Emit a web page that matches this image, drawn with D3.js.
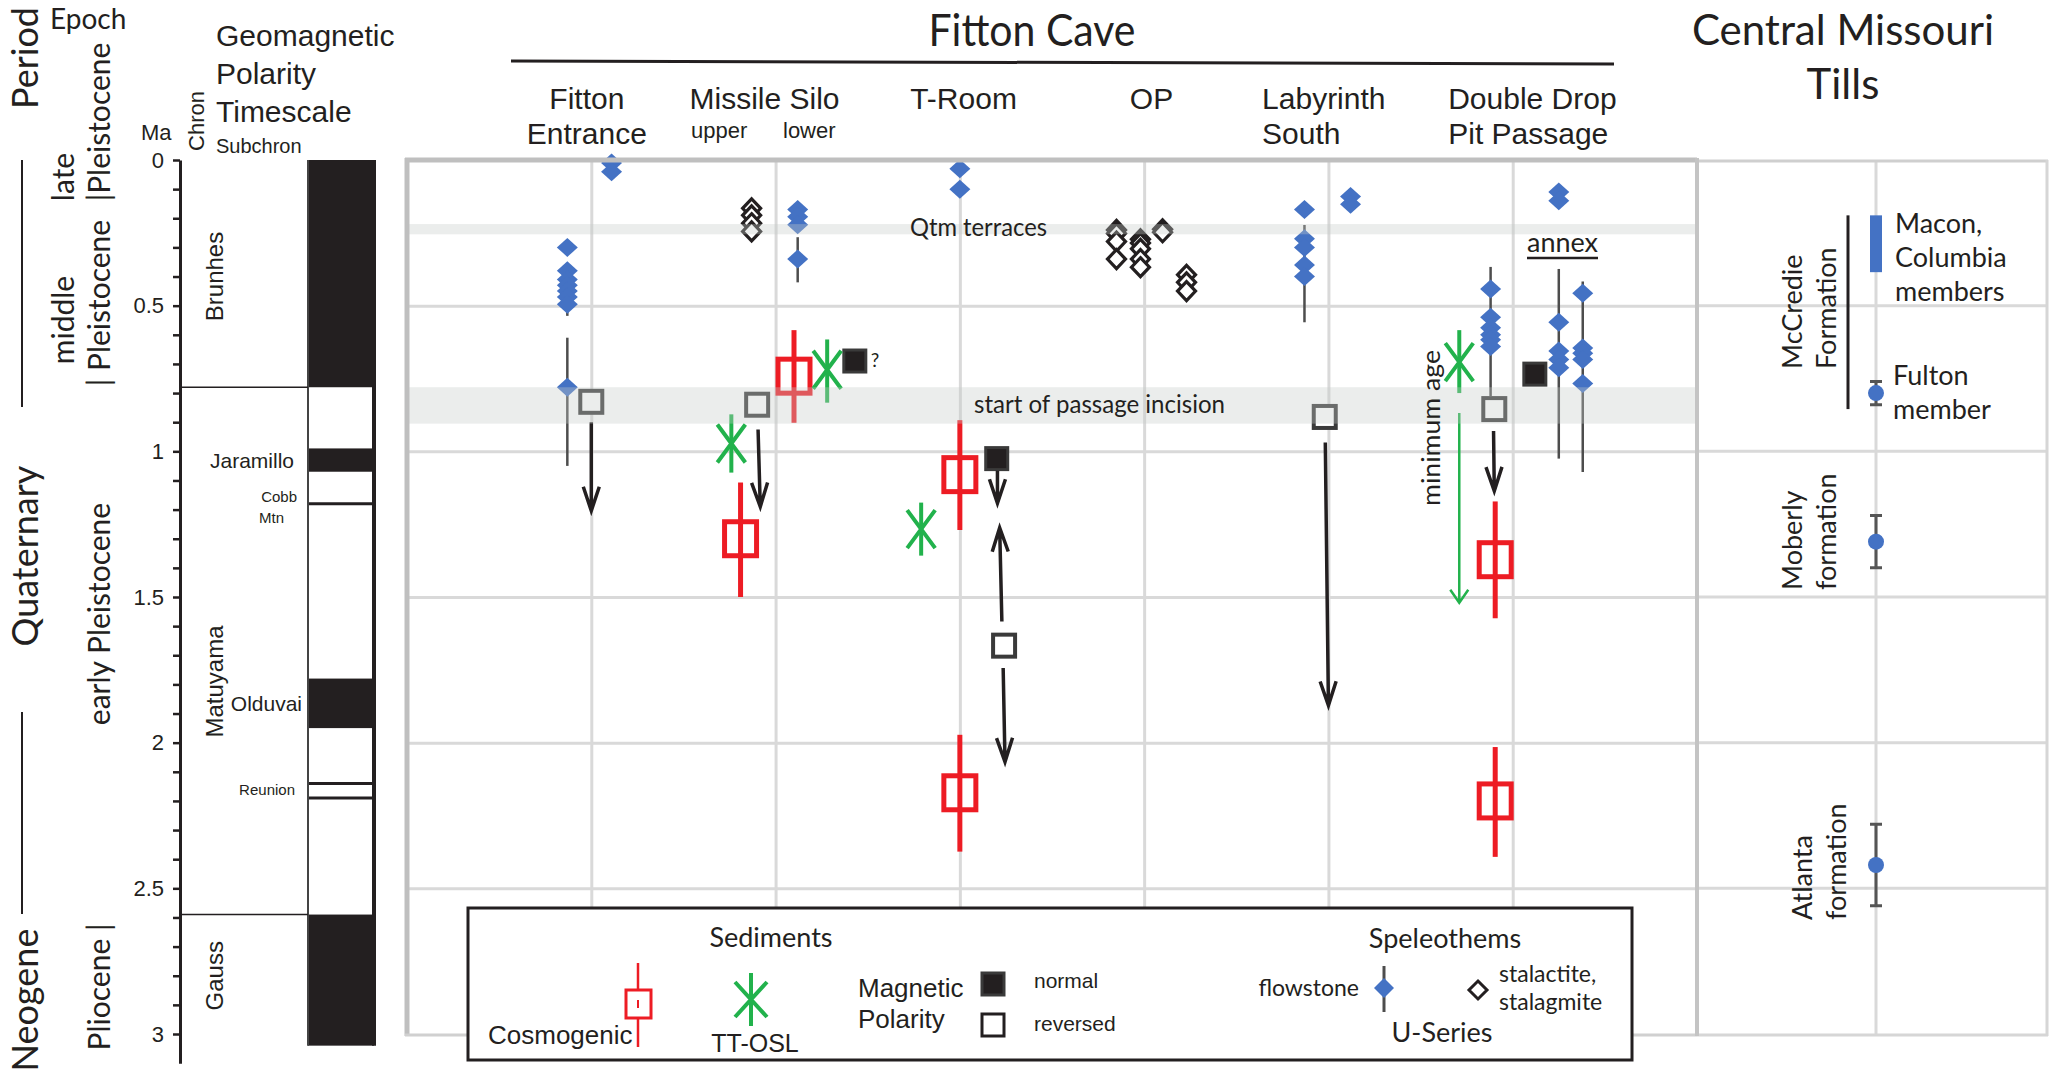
<!DOCTYPE html>
<html>
<head>
<meta charset="utf-8">
<script src="https://cdn.jsdelivr.net/npm/d3@7"></script>
<style>
  body { margin: 0; background: #fff; }
  #vis { width: 2051px; height: 1073px; }
  text { fill: #231f20; }
  .my { font-family: Lato, "Open Sans", sans-serif; }
  .ar { font-family: "Liberation Sans", Arial, sans-serif; }
</style>
</head>
<body>
<div id="vis"></div>
<script>
var width = 2051, height = 1073;

// ---------- data ----------
var maGrid = [0.5, 1, 1.5, 2, 2.5];
var siteGrid = [1, 2, 3, 4, 5, 6];
var maMinor = d3.range(0, 31).map(function (d) { return d / 10; });

// polarity timescale (Ma)
var normalChrons = [[0, 0.78], [0.99, 1.07], [1.78, 1.95], [2.59, 3.04]];
var shortEvents = [1.18, 2.14, 2.19];
var chronBounds = [0.78, 2.59];
var chronNames = [['Brunhes', 0.40], ['Matuyama', 1.79], ['Gauss', 2.80]];
var subchronNames = [['Jaramillo', 1.03, 294], ['Olduvai', 1.865, 302]];
var smallSubchrons = [['Cobb', 1.155, 297], ['Mtn', 1.225, 284], ['Reunion', 2.16, 295]];

// sites across the cave (x position in column units)
var siteLabels = [['Fitton', 'Entrance'], ['Missile Silo'], ['T-Room'], ['OP'], ['Labyrinth', 'South'], ['Double Drop', 'Pit Passage']];
var sitePos = [0.976, 1.94, 3.02, 4.04, 4.64, 5.65];

// U-series flowstone [x, age]
var flowstone = [
  [0.87, 0.30], [0.87, 0.38], [0.87, 0.41], [0.87, 0.43], [0.87, 0.45], [0.87, 0.47], [0.87, 0.495], [0.87, 0.78],
  [1.11, 0.01], [1.11, 0.04],
  [2.12, 0.17], [2.12, 0.195], [2.12, 0.222], [2.12, 0.34],
  [3.0, 0.03], [3.0, 0.10],
  [4.87, 0.17], [4.87, 0.27], [4.87, 0.30], [4.87, 0.36], [4.87, 0.40],
  [5.12, 0.125], [5.12, 0.152],
  [5.88, 0.443], [5.88, 0.54], [5.88, 0.576], [5.88, 0.60], [5.88, 0.617], [5.88, 0.64],
  [6.25, 0.11], [6.25, 0.14],
  [6.25, 0.557], [6.25, 0.656], [6.25, 0.685], [6.25, 0.713],
  [6.38, 0.457], [6.38, 0.645], [6.38, 0.663], [6.38, 0.685], [6.38, 0.767]
];
// flowstone error ranges [x, from, to]
var flowstoneErr = [
  [0.87, 0.49, 0.535], [0.87, 0.61, 1.05], [2.12, 0.265, 0.42], [4.87, 0.223, 0.557],
  [5.88, 0.367, 0.81], [6.25, 0.374, 1.025], [6.38, 0.417, 1.071]
];
// U-series stalactite / stalagmite [x, age]
var stalactite = [
  [1.87, 0.166], [1.87, 0.19], [1.87, 0.217], [1.87, 0.245],
  [3.85, 0.24], [3.85, 0.252], [3.85, 0.28], [3.85, 0.34],
  [3.98, 0.272], [3.98, 0.285], [3.98, 0.305], [3.98, 0.34], [3.98, 0.368],
  [4.10, 0.238], [4.10, 0.248],
  [4.23, 0.394], [4.23, 0.42], [4.23, 0.45]
];
// cosmogenic burial [x, age, from, to]
var cosmogenic = [
  [1.81, 1.30, 1.107, 1.50], [2.10, 0.742, 0.584, 0.902],
  [3.0, 1.08, 0.893, 1.27], [3.0, 2.172, 1.973, 2.374],
  [5.905, 1.372, 1.172, 1.573], [5.905, 2.20, 2.015, 2.392]
];
// TT-OSL [x, age, from, to]
var ttosl = [
  [1.76, 0.973, 0.873, 1.073], [2.28, 0.72, 0.616, 0.833],
  [2.79, 1.267, 1.176, 1.358], [5.71, 0.694, 0.584, 0.80]
];
// magnetic polarity of sediments [x, age]
var reversedPol = [[1.0, 0.83], [1.90, 0.84], [3.24, 1.667], [4.98, 0.882], [5.90, 0.855]];
var normalPol = [[2.43, 0.69], [3.20, 1.025], [6.12, 0.735]];
// arrows [x1, age1, x2, age2]
var arrows = [
  [1.0, 0.90, 1.0, 1.204], [1.905, 0.925, 1.917, 1.19],
  [3.204, 1.067, 3.204, 1.178], [3.228, 1.584, 3.216, 1.262], [3.235, 1.744, 3.245, 2.066],
  [4.983, 0.97, 5.0, 1.872], [5.896, 0.93, 5.90, 1.136]
];
var minAgeArrow = [5.71, 0.868, 5.71, 1.52];
// shaded levels [from, to]
var bands = [[0.22, 0.255], [0.78, 0.905]];

// Central Missouri tills
var tillBar = [0.19, 0.385];
var mccredieSpan = [0.19, 0.855];
var tillAges = [[0.80, 0.76, 0.84], [1.31, 1.22, 1.40], [2.42, 2.28, 2.56]];

// ---------- scales ----------
var svg = d3.select('#vis').append('svg').attr('width', width).attr('height', height);
var y = d3.scaleLinear().domain([0, 3]).range([160, 1034]);
var x = d3.scaleLinear().domain([0, 7]).range([407, 1697]);
var tillX = 1876;

var blue = '#4472c4', red = '#ed1c24', green = '#22b24c', ink = '#231f20';

function diamond(w, h) { return 'M0,' + (-h) + 'L' + w + ',0L0,' + h + 'L' + (-w) + ',0Z'; }
function arrowPath(x1, y1, x2, y2, len, half) {
  var a = Math.atan2(y2 - y1, x2 - x1);
  var bx = x2 - len * Math.cos(a), by = y2 - len * Math.sin(a);
  var px = -Math.sin(a) * half, py = Math.cos(a) * half;
  return 'M' + x1 + ',' + y1 + 'L' + x2 + ',' + y2 +
    'M' + (bx + px) + ',' + (by + py) + 'L' + x2 + ',' + y2 + 'L' + (bx - px) + ',' + (by - py);
}
function vtext(g, str, tx, ty, size, cls, anchor) {
  return g.append('text').attr('class', cls)
    .attr('transform', 'translate(' + tx + ',' + ty + ') rotate(-90)')
    .attr('text-anchor', anchor || 'middle').attr('font-size', size).text(str);
}

// ---------- left: period / epoch / polarity ----------
var left = svg.append('g');
vtext(left, 'Period', 38, 58, 36, 'my');
left.append('text').attr('class', 'my').attr('x', 50).attr('y', 29).attr('font-size', 28).text('Epoch');
vtext(left, 'Quaternary', 38, 556, 36, 'my');
vtext(left, 'Neogene', 38, 1000, 36, 'my');
left.append('line').attr('x1', 22).attr('x2', 22).attr('y1', 160).attr('y2', 407).attr('stroke', ink).attr('stroke-width', 2);
left.append('line').attr('x1', 22).attr('x2', 22).attr('y1', 712).attr('y2', 914).attr('stroke', ink).attr('stroke-width', 2);
vtext(left, 'late', 74, 177, 30, 'my');
vtext(left, '|Pleistocene', 110, 122, 30, 'my');
vtext(left, 'middle', 74, 320, 30, 'my');
vtext(left, '| Pleistocene', 110, 303, 30, 'my');
vtext(left, 'early Pleistocene', 110, 614, 30, 'my');
vtext(left, 'Pliocene |', 110, 987, 30, 'my');

left.append('text').attr('class', 'ar').attr('x', 141).attr('y', 140).attr('font-size', 22).text('Ma');
vtext(left, 'Chron', 204, 121, 22, 'ar');
left.append('text').attr('class', 'ar').attr('x', 216).attr('y', 153).attr('font-size', 20).text('Subchron');
['Geomagnetic', 'Polarity', 'Timescale'].forEach(function (t, i) {
  left.append('text').attr('class', 'ar').attr('x', 216).attr('y', 46 + i * 38).attr('font-size', 30).text(t);
});

var yAxisScale = d3.scaleLinear().domain([0, 3.1]).range([y(0), y(3.1)]);
var gAxis = left.append('g').attr('transform', 'translate(180,0)')
  .call(d3.axisLeft(yAxisScale).tickValues(maMinor).tickSize(7).tickSizeOuter(0).tickPadding(9)
    .tickFormat(function (d) { return Math.round(d * 10) % 5 === 0 ? d3.format('')(d) : ''; }));
gAxis.select('.domain').attr('stroke', ink).attr('stroke-width', 3);
gAxis.selectAll('.tick line').attr('stroke', ink).attr('stroke-width', 2.5);
gAxis.selectAll('.tick text').attr('class', 'ar').attr('font-size', 22).attr('fill', ink);

var colL = 308, colR = 374;
left.selectAll('.normal').data(normalChrons).enter().append('rect')
  .attr('x', colL).attr('width', colR - colL)
  .attr('y', function (d) { return y(d[0]); })
  .attr('height', function (d) { return y(d[1]) - y(d[0]); })
  .attr('fill', ink);
left.selectAll('.event').data(shortEvents).enter().append('line')
  .attr('x1', colL).attr('x2', colR)
  .attr('y1', function (d) { return y(d); }).attr('y2', function (d) { return y(d); })
  .attr('stroke', ink).attr('stroke-width', 3);
left.append('line').attr('x1', colL).attr('x2', colL).attr('y1', y(0)).attr('y2', y(3.04)).attr('stroke', '#444').attr('stroke-width', 2);
left.append('line').attr('x1', colR).attr('x2', colR).attr('y1', y(0)).attr('y2', y(3.04)).attr('stroke', ink).attr('stroke-width', 4);
left.selectAll('.bound').data(chronBounds).enter().append('line')
  .attr('x1', 180).attr('x2', colL)
  .attr('y1', function (d) { return y(d); }).attr('y2', function (d) { return y(d); })
  .attr('stroke', ink).attr('stroke-width', 1.5);
chronNames.forEach(function (d) { vtext(left, d[0], 223, y(d[1]), 24, 'ar'); });
subchronNames.forEach(function (d) {
  left.append('text').attr('class', 'ar').attr('x', d[2]).attr('y', y(d[1]) + 8)
    .attr('text-anchor', 'end').attr('font-size', 21).text(d[0]);
});
smallSubchrons.forEach(function (d) {
  left.append('text').attr('class', 'ar').attr('x', d[2]).attr('y', y(d[1]) + 6)
    .attr('text-anchor', 'end').attr('font-size', 15).text(d[0]);
});

// ---------- main plot ----------
var plot = svg.append('g');
var gy = plot.append('g').attr('transform', 'translate(407,0)')
  .call(d3.axisLeft(y).tickValues(maGrid).tickSize(-1290).tickFormat(''));
var gx = plot.append('g').attr('transform', 'translate(0,160)')
  .call(d3.axisTop(x).tickValues(siteGrid).tickSize(-874).tickFormat(''));
[gy, gx].forEach(function (g) {
  g.select('.domain').remove();
  g.selectAll('line').attr('stroke', '#d9d9d9').attr('stroke-width', 3);
});

plot.selectAll('.ferr').data(flowstoneErr).enter().append('line')
  .attr('x1', function (d) { return x(d[0]); }).attr('x2', function (d) { return x(d[0]); })
  .attr('y1', function (d) { return y(d[1]); }).attr('y2', function (d) { return y(d[2]); })
  .attr('stroke', '#4d4d4d').attr('stroke-width', 2.5);
plot.selectAll('.flow').data(flowstone).enter().append('path')
  .attr('d', diamond(10.5, 9.5))
  .attr('transform', function (d) { return 'translate(' + x(d[0]) + ',' + y(d[1]) + ')'; })
  .attr('fill', blue);
plot.selectAll('.stal').data(stalactite).enter().append('path')
  .attr('d', diamond(9, 9.5))
  .attr('transform', function (d) { return 'translate(' + x(d[0]) + ',' + y(d[1]) + ')'; })
  .attr('fill', '#fff').attr('stroke', ink).attr('stroke-width', 3.2);

plot.selectAll('.rev').data(reversedPol).enter().append('rect')
  .attr('x', function (d) { return x(d[0]) - 11; }).attr('y', function (d) { return y(d[1]) - 11; })
  .attr('width', 22).attr('height', 22)
  .attr('fill', '#fff').attr('stroke', '#3a3a3a').attr('stroke-width', 4);
plot.selectAll('.nor').data(normalPol).enter().append('rect')
  .attr('x', function (d) { return x(d[0]) - 11; }).attr('y', function (d) { return y(d[1]) - 11; })
  .attr('width', 22).attr('height', 22)
  .attr('fill', ink).attr('stroke', '#3a3a3a').attr('stroke-width', 3);
plot.append('text').attr('class', 'my').attr('x', x(2.43) + 16).attr('y', y(0.69) + 6)
  .attr('font-size', 19).text('?');

var cos = plot.selectAll('.cos').data(cosmogenic).enter().append('g')
  .attr('transform', function (d) { return 'translate(' + x(d[0]) + ',0)'; });
cos.append('line').attr('x1', 0).attr('x2', 0)
  .attr('y1', function (d) { return y(d[2]); }).attr('y2', function (d) { return y(d[3]); })
  .attr('stroke', red).attr('stroke-width', 5);
cos.append('rect').attr('x', -16).attr('y', function (d) { return y(d[1]) - 17; })
  .attr('width', 32).attr('height', 34)
  .attr('fill', 'none').attr('stroke', red).attr('stroke-width', 5);

var osl = plot.selectAll('.osl').data(ttosl).enter().append('g')
  .attr('transform', function (d) { return 'translate(' + x(d[0]) + ',0)'; })
  .attr('stroke', green).attr('stroke-width', 4);
osl.append('line').attr('x1', 0).attr('x2', 0)
  .attr('y1', function (d) { return y(d[2]); }).attr('y2', function (d) { return y(d[3]); });
osl.append('path').attr('fill', 'none')
  .attr('d', function (d) {
    var c = y(d[1]);
    return 'M-14,' + (c - 19) + 'L14,' + (c + 19) + 'M14,' + (c - 19) + 'L-14,' + (c + 19);
  });

plot.selectAll('.arr').data(arrows).enter().append('path')
  .attr('d', function (d) { return arrowPath(x(d[0]), y(d[1]), x(d[2]), y(d[3]), 24, 8); })
  .attr('fill', 'none').attr('stroke', ink).attr('stroke-width', 3.5);
plot.append('path')
  .attr('d', arrowPath(x(minAgeArrow[0]), y(minAgeArrow[1]), x(minAgeArrow[2]), y(minAgeArrow[3]), 13, 9))
  .attr('fill', 'none').attr('stroke', green).attr('stroke-width', 2.5);

plot.selectAll('.band').data(bands).enter().append('rect')
  .attr('x', 407).attr('width', 1290)
  .attr('y', function (d) { return y(d[0]); })
  .attr('height', function (d) { return y(d[1]) - y(d[0]); })
  .attr('fill', 'rgb(198,204,201)').attr('fill-opacity', 0.35);

plot.append('text').attr('class', 'my').attr('x', 910).attr('y', 236).attr('font-size', 25)
  .attr('textLength', 137).attr('lengthAdjust', 'spacingAndGlyphs').text('Qtm terraces');
plot.append('text').attr('class', 'my').attr('x', 974).attr('y', 413).attr('font-size', 25)
  .attr('textLength', 251).attr('lengthAdjust', 'spacingAndGlyphs').text('start of passage incision');
plot.append('text').attr('class', 'my').attr('x', 1527).attr('y', 252).attr('font-size', 27)
  .attr('textLength', 71).attr('lengthAdjust', 'spacingAndGlyphs').text('annex');
plot.append('line').attr('x1', 1527).attr('x2', 1598).attr('y1', 258).attr('y2', 258)
  .attr('stroke', ink).attr('stroke-width', 2.5);
vtext(plot, 'minimum age', 1440, 428, 25, 'my').attr('textLength', 156).attr('lengthAdjust', 'spacingAndGlyphs');

// frame
plot.append('line').attr('x1', 405).attr('x2', 1697).attr('y1', 160).attr('y2', 160).attr('stroke', '#bfbfbf').attr('stroke-width', 5);
plot.append('line').attr('x1', 407).attr('x2', 407).attr('y1', 158).attr('y2', 1036).attr('stroke', '#bfbfbf').attr('stroke-width', 5);
plot.append('line').attr('x1', 405).attr('x2', 1697).attr('y1', 1035).attr('y2', 1035).attr('stroke', '#d0d0d0').attr('stroke-width', 3);

// header
plot.append('text').attr('class', 'my').attr('x', 1032).attr('y', 46).attr('text-anchor', 'middle')
  .attr('font-size', 44).attr('textLength', 207).attr('lengthAdjust', 'spacingAndGlyphs').text('Fitton Cave');
plot.append('line').attr('x1', 511).attr('x2', 1614).attr('y1', 61).attr('y2', 64).attr('stroke', ink).attr('stroke-width', 3);
siteLabels.forEach(function (lines, i) {
  var anchor = i < 4 ? 'middle' : 'start';
  lines.forEach(function (t, j) {
    plot.append('text').attr('class', 'ar').attr('x', x(sitePos[i])).attr('y', 109 + j * 35)
      .attr('text-anchor', anchor).attr('font-size', 30).text(t);
  });
});
plot.append('text').attr('class', 'ar').attr('x', 691).attr('y', 138).attr('font-size', 22).text('upper');
plot.append('text').attr('class', 'ar').attr('x', 783).attr('y', 138).attr('font-size', 22).text('lower');

// ---------- Central Missouri tills ----------
var till = svg.append('g');
till.selectAll('.tg').data(maGrid).enter().append('line')
  .attr('x1', 1697).attr('x2', 2047)
  .attr('y1', function (d) { return y(d); }).attr('y2', function (d) { return y(d); })
  .attr('stroke', '#d9d9d9').attr('stroke-width', 3);
till.append('line').attr('x1', tillX).attr('x2', tillX).attr('y1', y(0)).attr('y2', y(3))
  .attr('stroke', '#d9d9d9').attr('stroke-width', 3);
till.append('line').attr('x1', 1697).attr('x2', 2048).attr('y1', 161).attr('y2', 161).attr('stroke', '#cfcfcf').attr('stroke-width', 3);
till.append('line').attr('x1', 2047).attr('x2', 2047).attr('y1', 160).attr('y2', 1036).attr('stroke', '#d6d6d6').attr('stroke-width', 3);
till.append('line').attr('x1', 1697).attr('x2', 2048).attr('y1', 1035).attr('y2', 1035).attr('stroke', '#d6d6d6').attr('stroke-width', 3);
till.append('line').attr('x1', 1697).attr('x2', 1697).attr('y1', 158).attr('y2', 1036).attr('stroke', '#c4c4c4').attr('stroke-width', 4);

till.append('rect').attr('x', tillX - 6).attr('width', 12)
  .attr('y', y(tillBar[0])).attr('height', y(tillBar[1]) - y(tillBar[0])).attr('fill', blue);
till.append('line').attr('x1', 1848).attr('x2', 1848).attr('y1', y(mccredieSpan[0])).attr('y2', y(mccredieSpan[1]))
  .attr('stroke', ink).attr('stroke-width', 3);
var tg = till.selectAll('.ta').data(tillAges).enter().append('g');
tg.append('path').attr('fill', 'none').attr('stroke', '#555').attr('stroke-width', 3)
  .attr('d', function (d) {
    return 'M' + tillX + ',' + y(d[1]) + 'L' + tillX + ',' + y(d[2]) +
      'M' + (tillX - 6) + ',' + y(d[1]) + 'L' + (tillX + 6) + ',' + y(d[1]) +
      'M' + (tillX - 6) + ',' + y(d[2]) + 'L' + (tillX + 6) + ',' + y(d[2]);
  });
tg.append('circle').attr('cx', tillX).attr('cy', function (d) { return y(d[0]); }).attr('r', 8).attr('fill', blue);

till.append('text').attr('class', 'my').attr('x', 1843).attr('y', 45).attr('text-anchor', 'middle').attr('font-size', 42).text('Central Missouri');
till.append('text').attr('class', 'my').attr('x', 1843).attr('y', 99).attr('text-anchor', 'middle').attr('font-size', 42).text('Tills');
['Macon,', 'Columbia', 'members'].forEach(function (t, i) {
  till.append('text').attr('class', 'my').attr('x', 1895).attr('y', 233 + i * 34).attr('font-size', 27).text(t);
});
['Fulton', 'member'].forEach(function (t, i) {
  till.append('text').attr('class', 'my').attr('x', 1893).attr('y', 385 + i * 34).attr('font-size', 27).text(t);
});
vtext(till, 'McCredie', 1802, 369, 27, 'my', 'start');
vtext(till, 'Formation', 1836, 369, 27, 'my', 'start');
vtext(till, 'Moberly', 1802, 590, 27, 'my', 'start');
vtext(till, 'formation', 1836, 590, 27, 'my', 'start');
vtext(till, 'Atlanta', 1812, 920, 27, 'my', 'start');
vtext(till, 'formation', 1846, 920, 27, 'my', 'start');

// ---------- legend ----------
var lg = svg.append('g');
lg.append('rect').attr('x', 468).attr('y', 908).attr('width', 1164).attr('height', 152)
  .attr('fill', '#fff').attr('stroke', ink).attr('stroke-width', 3);
lg.append('text').attr('class', 'my').attr('x', 771).attr('y', 947).attr('text-anchor', 'middle').attr('font-size', 27).text('Sediments');
lg.append('line').attr('x1', 638).attr('x2', 638).attr('y1', 963).attr('y2', 1047).attr('stroke', red).attr('stroke-width', 2.5);
lg.append('rect').attr('x', 626).attr('y', 990).attr('width', 25).attr('height', 28).attr('fill', '#fff').attr('stroke', red).attr('stroke-width', 3);
lg.append('line').attr('x1', 638).attr('x2', 638).attr('y1', 1000).attr('y2', 1008).attr('stroke', red).attr('stroke-width', 2);
lg.append('text').attr('class', 'ar').attr('x', 488).attr('y', 1044).attr('font-size', 26).text('Cosmogenic');
lg.append('path').attr('fill', 'none').attr('stroke', green).attr('stroke-width', 4)
  .attr('d', 'M751,973L751,1026M735,982L767,1017M767,982L735,1017');
lg.append('text').attr('class', 'ar').attr('x', 755).attr('y', 1052).attr('text-anchor', 'middle').attr('font-size', 25).text('TT-OSL');
lg.append('text').attr('class', 'ar').attr('x', 858).attr('y', 997).attr('font-size', 26).text('Magnetic');
lg.append('text').attr('class', 'ar').attr('x', 858).attr('y', 1028).attr('font-size', 26).text('Polarity');
lg.append('rect').attr('x', 982).attr('y', 973).attr('width', 22).attr('height', 22).attr('fill', ink).attr('stroke', '#3a3a3a').attr('stroke-width', 3);
lg.append('rect').attr('x', 982).attr('y', 1014).attr('width', 22).attr('height', 22).attr('fill', '#fff').attr('stroke', ink).attr('stroke-width', 3);
lg.append('text').attr('class', 'ar').attr('x', 1034).attr('y', 988).attr('font-size', 21).text('normal');
lg.append('text').attr('class', 'ar').attr('x', 1034).attr('y', 1031).attr('font-size', 21).text('reversed');
lg.append('text').attr('class', 'my').attr('x', 1445).attr('y', 948).attr('text-anchor', 'middle').attr('font-size', 27).text('Speleothems');
lg.append('text').attr('class', 'my').attr('x', 1359).attr('y', 996).attr('text-anchor', 'end').attr('font-size', 23).text('flowstone');
lg.append('line').attr('x1', 1384).attr('x2', 1384).attr('y1', 966).attr('y2', 1012).attr('stroke', '#4d4d4d').attr('stroke-width', 3);
lg.append('path').attr('d', diamond(10, 10)).attr('transform', 'translate(1384,988)').attr('fill', blue);
lg.append('path').attr('d', diamond(9, 9)).attr('transform', 'translate(1478,990)').attr('fill', '#fff').attr('stroke', ink).attr('stroke-width', 3);
lg.append('text').attr('class', 'my').attr('x', 1499).attr('y', 982).attr('font-size', 23).text('stalactite,');
lg.append('text').attr('class', 'my').attr('x', 1499).attr('y', 1010).attr('font-size', 23).text('stalagmite');
lg.append('text').attr('class', 'my').attr('x', 1442).attr('y', 1042).attr('text-anchor', 'middle').attr('font-size', 27).text('U-Series');
</script>
</body>
</html>
